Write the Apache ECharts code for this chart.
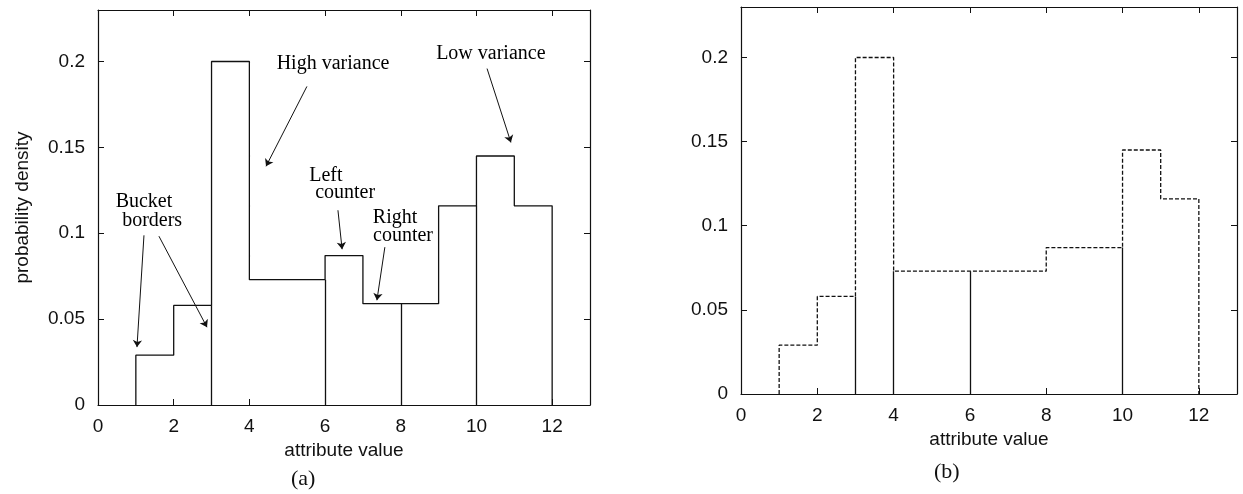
<!DOCTYPE html>
<html>
<head>
<meta charset="utf-8">
<script src="https://cdn.jsdelivr.net/npm/echarts@6/dist/echarts.min.js"></script>
<style>
  html, body { margin: 0; padding: 0; background: #fff; }
  #chart { width: 1243px; height: 494px; }
</style>
</head>
<body>
<div id="chart"></div>
<script>
// (a) histogram with bucket counters
const binEdgesA = [1, 2, 3, 4, 6, 7, 8, 9, 10, 11, 12];
const densityA = [0.029, 0.058, 0.2, 0.073, 0.087, 0.059, 0.059, 0.116, 0.145, 0.116];
const bucketBordersA = [3, 6, 8, 10];

// (b) approximated histogram
const binEdgesB = [1, 2, 3, 4, 8, 10, 11, 12];
const densityB = [0.029, 0.058, 0.2, 0.073, 0.087, 0.145, 0.116];
const bucketBordersB = [3, 4, 6, 10];

// annotations of (a), in data coordinates
const notesA = [
    ['Bucket', 1.215, 0.1186],
    ['borders', 1.43, 0.107],
    ['High variance', 6.21, 0.1988],
    ['Left', 6.02, 0.1337],
    ['counter', 6.53, 0.1233],
    ['Right', 7.85, 0.1093],
    ['counter', 8.06, 0.0988],
    ['Low variance', 10.38, 0.2047]
];
const arrowsA = [
    [[1.215, 0.0988], [1.03, 0.0337]],
    [[1.61, 0.0983], [2.88, 0.0453]],
    [[5.52, 0.1855], [4.44, 0.139]],
    [[6.34, 0.1134], [6.45, 0.0907]],
    [[7.58, 0.0919], [7.37, 0.061]],
    [[10.28, 0.1959], [10.91, 0.1529]]
];

const xMax = 13, xStep = 2;
const yMax = 0.23, yStep = 0.05;

const ink = '#111';
const sans = 'Liberation Sans';
const serif = 'Liberation Serif';

function outline(edges, dens) {
    let pts = [[edges[0], 0]];
    for (let i = 0; i < dens.length; ++i) {
        pts.push([edges[i], dens[i]]);
        pts.push([edges[i + 1], dens[i]]);
    }
    pts.push([edges[edges.length - 1], 0]);
    return pts;
}

function heightAt(edges, dens, x) {
    let hl = 0, hr = 0;
    for (let i = 0; i < dens.length; ++i) {
        if (edges[i] < x && x <= edges[i + 1]) hl = dens[i];
        if (edges[i] <= x && x < edges[i + 1]) hr = dens[i];
    }
    return Math.min(hl, hr);
}

function borders(edges, dens, list) {
    return list.map(x => ({ coords: [[x, 0], [x, heightAt(edges, dens, x)]] }));
}

function xAxes(grid, gap) {
    let base = {
        type: 'value', gridIndex: grid, min: 0, max: xMax, interval: xStep,
        axisLine: { onZero: false, lineStyle: { color: ink, width: 1.2 } },
        axisTick: { inside: true, length: 6, lineStyle: { color: ink } },
        splitLine: { show: false }
    };
    return [
        Object.assign({}, base, {
            position: 'bottom',
            name: 'attribute value', nameLocation: 'middle', nameGap: gap,
            nameTextStyle: { fontFamily: sans, fontSize: 19, color: ink },
            axisLabel: { margin: 12, fontFamily: sans, fontSize: 19, color: ink, showMaxLabel: false }
        }),
        Object.assign({}, base, { position: 'top', axisLabel: { show: false } })
    ];
}

function yAxes(grid, withName) {
    let base = {
        type: 'value', gridIndex: grid, min: 0, max: yMax, interval: yStep,
        axisLine: { onZero: false, lineStyle: { color: ink, width: 1.2 } },
        axisTick: { inside: true, length: 6, lineStyle: { color: ink } },
        splitLine: { show: false }
    };
    let left = Object.assign({}, base, {
        position: 'left',
        axisLabel: { margin: 13, fontFamily: sans, fontSize: 19, color: ink, showMaxLabel: false }
    });
    if (withName) {
        left.name = 'probability density';
        left.nameLocation = 'middle';
        left.nameGap = 66;
        left.nameTextStyle = { fontFamily: sans, fontSize: 19, color: ink };
    }
    return [left, Object.assign({}, base, { position: 'right', axisLabel: { show: false } })];
}

let option = {
    animation: false,
    backgroundColor: '#fff',
    title: [
        { text: '(a)', left: 286, top: 463, textStyle: { fontFamily: serif, fontSize: 22, fontWeight: 'normal', color: ink } },
        { text: '(b)', left: 929, top: 456, textStyle: { fontFamily: serif, fontSize: 22, fontWeight: 'normal', color: ink } }
    ],
    grid: [
        { left: 98, top: 10, width: 492, height: 395 },
        { left: 741, top: 7, width: 496, height: 387 }
    ],
    xAxis: xAxes(0, 32).concat(xAxes(1, 34)),
    yAxis: yAxes(0, true).concat(yAxes(1, false)),
    series: [
        {
            name: 'histogram a', type: 'line', xAxisIndex: 0, yAxisIndex: 0,
            data: outline(binEdgesA, densityA), symbol: 'none',
            lineStyle: { color: ink, width: 1.3 }
        },
        {
            name: 'borders a', type: 'lines', coordinateSystem: 'cartesian2d',
            xAxisIndex: 0, yAxisIndex: 0,
            data: borders(binEdgesA, densityA, bucketBordersA),
            lineStyle: { color: ink, width: 1.3, opacity: 1 }
        },
        {
            name: 'arrows a', type: 'lines', coordinateSystem: 'cartesian2d',
            xAxisIndex: 0, yAxisIndex: 0,
            data: arrowsA.map(c => ({ coords: c })),
            symbol: ['none', 'arrow'], symbolSize: 7,
            lineStyle: { color: ink, width: 1, opacity: 1 }
        },
        {
            name: 'notes a', type: 'scatter', xAxisIndex: 0, yAxisIndex: 0,
            symbolSize: 1, itemStyle: { color: 'transparent' }, silent: true,
            data: notesA.map(n => ({ name: n[0], value: [n[1], n[2]] })),
            label: {
                show: true, position: 'inside', formatter: '{b}',
                fontFamily: serif, fontSize: 20, color: '#000',
                textBorderWidth: 0, opacity: 1
            }
        },
        {
            name: 'histogram b', type: 'line', xAxisIndex: 2, yAxisIndex: 2,
            data: outline(binEdgesB, densityB), symbol: 'none',
            lineStyle: { color: ink, width: 1.3, type: [4, 2] }
        },
        {
            name: 'borders b', type: 'lines', coordinateSystem: 'cartesian2d',
            xAxisIndex: 2, yAxisIndex: 2,
            data: borders(binEdgesB, densityB, bucketBordersB),
            lineStyle: { color: ink, width: 1.3, opacity: 1 }
        }
    ]
};

var myChart = echarts.init(document.getElementById('chart'));
myChart.setOption(option);
</script>
</body>
</html>
